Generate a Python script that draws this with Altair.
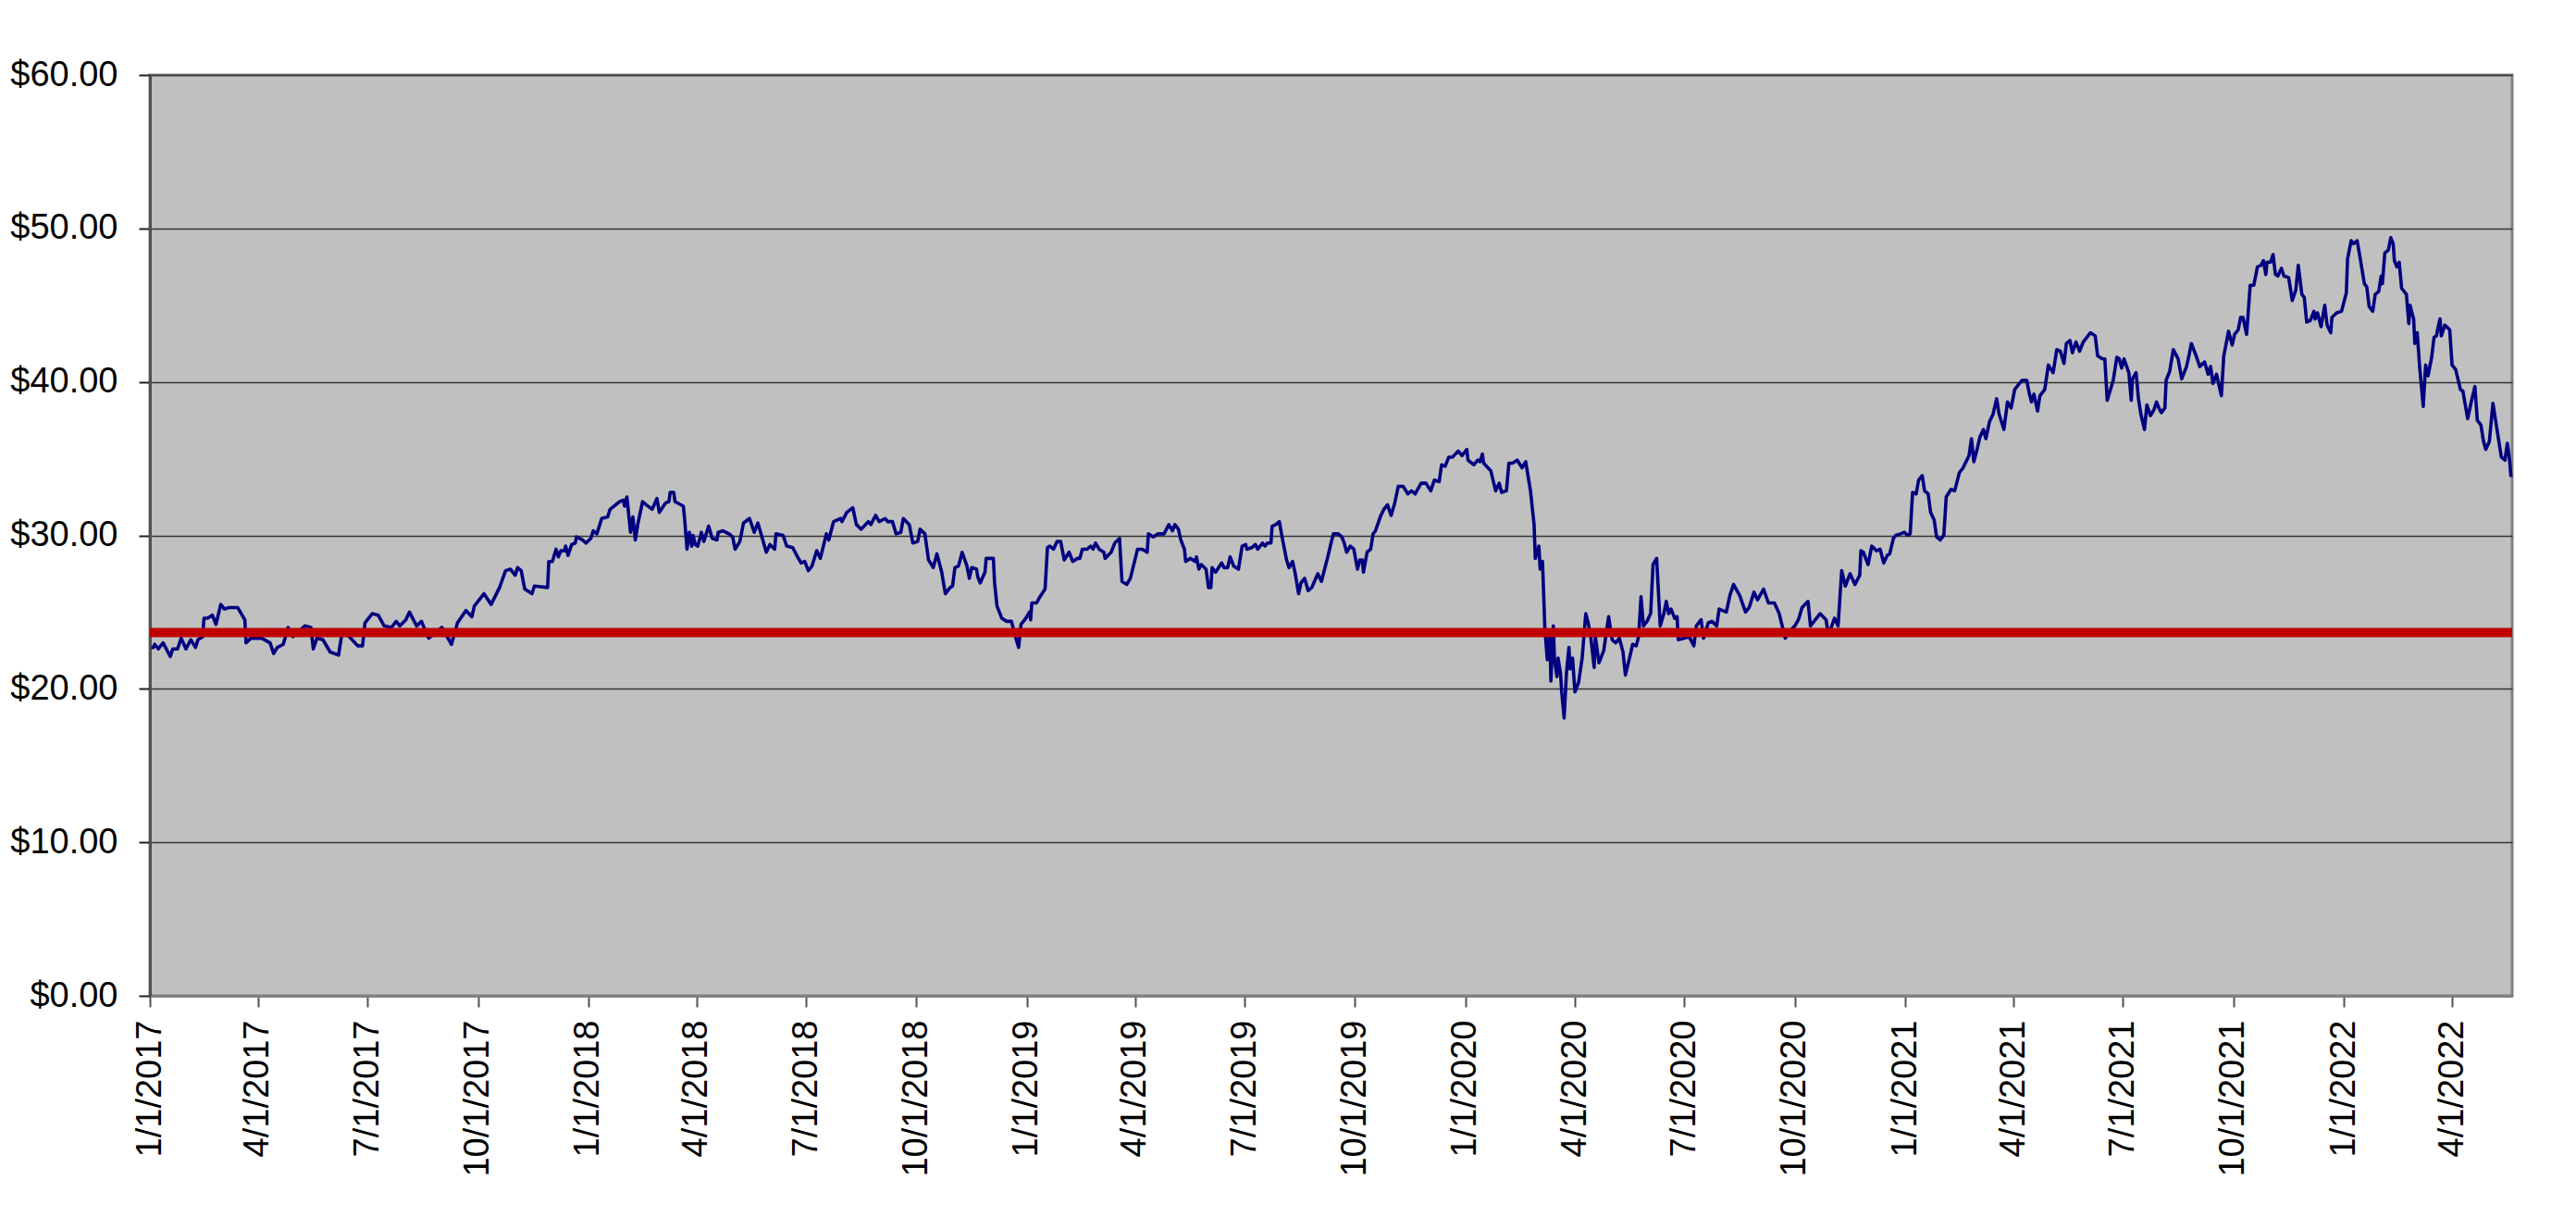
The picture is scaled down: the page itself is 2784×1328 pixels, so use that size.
import altair as alt
import pandas as pd

# ---- data (day offset from 1/1/2017, price in $) ----
seg_a_days = [2,4,7,11,17,19,23,26,30,34, 38,40,44,45,48,52,55,59,62,66, 73,79,80,84,87,93,100,103,106,111,
              115,119,129,134,136,139,144,150,157,160, 166,173,177,179,185,190,195,201,205,208,
              213,216,222,226,232,243,251,256,263,268, 270,278,284,291,296,300,304,306,309,312, 318,320,331]
seg_a_price = [22.6,22.9,22.6,23.0,22.1,22.6,22.6,23.3,22.6,23.2, 22.7,23.2,23.4,24.6,24.6,24.8,24.2,25.5,25.2,25.3,
               25.3,24.5,23.0,23.3,23.3,23.3,23.0,22.3,22.7,22.9, 24.0,23.4,24.1,24.0,22.6,23.3,23.2,22.4,22.2,23.7,
               23.4,22.8,22.8,24.3,24.9,24.8,24.1,24.0,24.4,24.1, 24.5,25.0,24.1,24.4,23.3,24.0,22.9,24.3,25.1,24.7,
               25.4,26.2,25.5,26.6,27.7,27.8,27.4,27.9,27.7,26.5, 26.2,26.7,26.6]

seg_b_days = [332,335,338,340,342,345,346,348,351,354, 355,360,363,367,369,372,376,381,383,391,
              394,395,397,400,402,404,406,410,413,418, 422,424,429,432,433,436,437,444,445,447,
              449,451,452,454,456,459,461,465,468,472, 473,477,482,485,487,491,494,499,503,506,
              509,513,516,520,521,527,530,535,539,542, 545,548,551,555,558,563,565,569,575,576,
              580,585,588,592,598,600,604,607,612,614, 618,621,625,627,632,635,639,641,645,648, 652,655,659]
seg_b_price = [28.3,28.3,29.1,28.6,29.0,29.0,29.3,28.7,29.4,29.5, 29.9,29.7,29.5,29.8,30.3,30.1,31.1,31.2,31.7,32.2,
               32.3,31.9,32.5,30.2,31.2,29.7,30.7,32.2,32.0,31.7, 32.4,31.5,32.1,32.2,32.8,32.8,32.2,31.9,31.1,29.1,
               30.2,29.3,30.0,29.4,29.3,30.2,29.6,30.6,29.8,29.7, 30.2,30.3,30.1,29.9,29.1,29.6,30.8,31.1,30.2,30.8,
               30.0,28.9,29.4,29.1,30.1,30.0,29.3,29.2,28.6,28.2, 28.3,27.7,28.0,29.0,28.5,30.1,29.7,30.9,31.1,30.9,
               31.5,31.8,30.7,30.4,30.9,30.7,31.3,30.9,31.1,30.9, 30.9,30.1,30.2,31.1,30.7,29.5,29.6,30.4,30.1,28.4,
               27.9,28.8,27.6]

seg_c_days = [662,666,668,670,673,676,680,682,684,688, 689,691,695,696,699,702,703,705,709,713,
              717,720,723,725,729,732,733,734,738,740, 745,747,749,752,755,758,761,765,768,772,
              774,776,780,783,785,787,790,794,795,800, 803,807,809,813,816,822,826,830,831,835,
              839,844,848,851,853,856,858,861,862,866, 870,871,873,875,879,881,883,884,887,892,
              894,897,899,902,906,909,912,913,917,920, 922,926,928,930,933,934,937,940,942,946,
              948,951,953,956,958,961,964,967,972,975, 978,980,983,985,989]
seg_c_price = [26.2,26.6,26.7,27.9,28.0,28.9,28.0,27.2,27.9,27.8, 27.3,26.9,27.6,28.5,28.5,28.5,26.9,25.4,24.6,24.4,
               24.4,23.5,22.7,24.2,24.6,25.0,24.5,25.6,25.6,25.9, 26.5,29.2,29.3,29.1,29.6,29.6,28.4,28.9,28.3,28.5,
               28.5,29.1,29.1,29.3,29.1,29.5,29.1,28.9,28.5,28.9, 29.5,29.8,27.0,26.8,27.2,29.1,29.1,28.9,30.1,29.9,
               30.1,30.1,30.7,30.3,30.7,30.4,29.7,29.1,28.3,28.5, 28.3,28.6,27.8,28.1,27.8,26.6,26.6,27.9,27.6,28.2,
               27.9,27.9,28.6,28.0,27.8,29.3,29.4,29.1,29.2,29.4, 29.1,29.5,29.3,29.5,29.5,30.6,30.7,30.9,30.0,28.4,
               27.9,28.3,27.6,26.2,26.9,27.2,26.4,26.6,27.5,27.0, 27.9,28.5,29.5,30.1,30.1]

seg_d_days = [992,994,996,999,1002,1005,1007,1009,1010,1013, 1016,1018,1020,1024,1027,1030,1033,1036,1039,1043,
              1047,1050,1053,1058,1062,1066,1069,1073,1075,1078, 1081,1084,1089,1092,1096,1097,1102,1105,1107,1109,
              1110,1116,1120,1123,1125,1129,1131,1134,1138,1142, 1145,1149,1152,1153,1156,1157,1159,1161,1163,1165,
              1166,1168,1169,1171,1172,1174,1175,1177,1179,1181, 1182,1184,1186,1189,1192,1195,1197,1199,1202,1203,
              1206,1210,1214,1217,1220,1223,1226,1228,1232,1234, 1237,1239,1241,1243,1246,1249,1251,1254,1257,1260,
              1262,1264,1266,1269,1271,1272,1277,1281,1285,1287, 1291,1293,1297,1300,1304,1306,1312,1315,1318,1323,
              1328,1331]
seg_d_price = [29.9,29.5,28.9,29.3,29.1,27.8,28.4,28.4,27.6,28.9, 29.1,30.1,30.3,31.2,31.7,32.0,31.3,32.1,33.2,33.2,
               32.7,32.9,32.7,33.4,33.4,32.9,33.6,33.5,34.6,34.5, 35.1,35.1,35.5,35.2,35.6,34.9,34.6,34.9,34.8,35.3,
               34.7,34.2,32.9,33.4,32.8,32.9,34.7,34.7,34.9,34.4, 34.8,32.9,30.7,28.5,29.3,27.8,28.3,23.9,21.9,23.7,
               20.5,24.1,21.9,20.8,22.0,21.0,19.8,18.1,21.1,22.7, 21.3,22.0,19.8,20.4,22.0,24.9,24.3,23.5,21.4,23.4,
               21.7,22.5,24.7,23.2,23.0,23.3,22.4,20.9,22.2,22.9, 22.8,23.4,26.0,24.1,24.4,24.9,28.1,28.5,24.1,24.9,
               25.7,24.9,25.2,24.6,24.7,23.2,23.3,23.4,22.8,24.1, 24.5,23.3,24.3,24.4,24.1,25.2,25.0,26.1,26.8,26.1,
               25.0,25.3]

seg_e_days = [1335,1338,1343,1347,1352,1356,1361,1364,1369,1372,1375,1380,1382,1390,1395,1397,1402,1405]
seg_e_price = [26.3,25.8,26.5,25.6,25.6,24.9,23.3,23.7,24.1,24.5,25.3,25.7,24.1,24.9,24.5,23.5,24.6,24.1]

seg_f_days = [1408,1411,1415,1419,1423,1424,1426,1430,1433,1437, 1440,1443,1446,1448,1451,1453,1457,1460,1463,1465,
              1467,1470,1472,1475,1477,1480,1482,1485,1487,1490, 1493,1495,1499,1502,1506,1509,1514,1516,1518,1521,
              1523,1526,1528,1531,1534,1537,1539,1543,1546,1549, 1552,1555,1558,1562,1564,1566,1568,1571,1573,1577,
              1580,1584,1587,1590,1593,1595,1598,1600,1603,1606, 1609,1612,1615,1619,1621,1625,1627,1629,1634,1637,
              1639,1641,1643]
seg_f_price = [27.7,26.7,27.5,26.8,27.4,29.0,28.9,28.1,29.3,29.0, 29.1,28.2,28.7,28.8,29.8,30.0,30.1,30.2,30.0,30.1,
               32.8,32.7,33.6,33.9,32.9,32.7,31.5,31.0,29.9,29.7, 30.0,32.5,33.0,32.9,34.1,34.4,35.2,36.3,34.8,35.7,
               36.4,36.9,36.3,37.4,37.9,38.9,37.9,36.9,38.7,38.3, 39.5,39.8,40.1,40.1,39.3,38.7,39.2,38.1,39.1,39.5,
               41.1,40.6,42.1,42.0,41.2,42.5,42.7,41.9,42.6,42.0, 42.6,42.9,43.2,43.0,41.7,41.5,41.5,38.8,40.1,41.6,
               41.5,40.9,41.5]

seg_g_days = [1647,1649,1650,1653,1655,1657,1660,1662,1665,1668, 1670,1672,1674,1677,1678,1681,1684,1688,1691,1695,
              1697,1699,1703,1706,1710,1713,1715,1717,1720,1724, 1726,1730,1733,1735,1738,1740,1742,1745,1748,1751,
              1754,1757,1759,1761,1762,1765,1767,1769,1771,1774, 1776,1780,1783,1786,1788,1791,1793,1795,1798,1801,
              1802,1804,1807,1810,1812,1815,1816,1820,1824,1828, 1829,1832,1834,1837,1839,1843,1845,1847,1850,1852,
              1855,1857,1858,1860,1863,1865,1867,1868,1870,1872, 1874,1878,1880,1881,1884,1885,1887,1889,1892,1894,
              1896,1899,1901,1903,1905,1906,1907,1910,1914,1916, 1919,1923,1925,1929,1932,1935,1937,1940,1942,1944,
              1947,1950,1953,1957,1960,1962,1964,1965]
seg_g_price = [40.6,38.8,40.2,40.6,38.9,37.9,36.9,38.5,37.8,38.2, 38.7,38.3,38.0,38.3,40.1,40.7,42.1,41.5,40.2,41.0,
               41.7,42.5,41.7,41.0,41.3,40.5,41.0,39.9,40.5,39.1, 41.7,43.3,42.4,43.1,43.4,44.2,44.2,43.1,46.3,46.3,
               47.5,47.6,47.9,47.0,47.8,47.8,48.3,47.0,46.9,47.4, 46.9,46.8,45.3,46.0,47.6,45.7,45.5,43.9,44.0,44.6,
               44.1,44.5,43.6,45.0,43.7,43.2,44.2,44.5,44.6,45.8, 48.0,49.2,49.0,49.2,48.3,46.4,46.2,44.9,44.6,45.7,
               45.9,46.9,46.4,48.4,48.6,49.4,49.0,47.9,47.5,47.8, 46.1,45.7,43.8,45.0,44.1,42.5,43.2,41.0,38.4,41.1,
               40.4,41.6,42.9,43.0,43.8,44.1,43.0,43.7,43.4,41.1, 40.8,39.5,39.4,37.6,38.7,39.7,37.5,37.2,36.2,35.6,
               36.1,38.6,37.1,35.1,34.9,36.0,34.8,33.8]

average_price = 23.67

x_tick_dates = ["2017-01-01", "2017-04-01", "2017-07-01", "2017-10-01",
                "2018-01-01", "2018-04-01", "2018-07-01", "2018-10-01",
                "2019-01-01", "2019-04-01", "2019-07-01", "2019-10-01",
                "2020-01-01", "2020-04-01", "2020-07-01", "2020-10-01",
                "2021-01-01", "2021-04-01", "2021-07-01", "2021-10-01",
                "2022-01-01", "2022-04-01"]
x_domain = ["2017-01-01", "2022-05-21"]
y_ticks = [0, 10, 20, 30, 40, 50, 60]

# ---- build table ----
all_days = seg_a_days + seg_b_days + seg_c_days + seg_d_days + seg_e_days + seg_f_days + seg_g_days
all_price = seg_a_price + seg_b_price + seg_c_price + seg_d_price + seg_e_price + seg_f_price + seg_g_price
n = min(len(all_days), len(all_price))
base = pd.Timestamp("2017-01-01")
df = pd.DataFrame({
    "date": [(base + pd.Timedelta(days=d)).strftime("%Y-%m-%dT00:00:00") for d in all_days[:n]],
    "price": all_price[:n],
})
avg_df = pd.DataFrame({"avg": [average_price]})


def dt(s):
    return alt.DateTime(year=int(s[:4]), month=int(s[5:7]), date=int(s[8:10]))


FONT = "Liberation Sans"

x_enc = alt.X(
    "date:T",
    scale=alt.Scale(domain=[dt(x_domain[0]), dt(x_domain[1])], nice=False),
    axis=alt.Axis(
        values=[dt(s) for s in x_tick_dates], format="%-m/%-d/%Y", labelAngle=270,
        labelFont=FONT, labelFontSize=38, labelColor="black", labelPadding=14,
        tickSize=12, tickColor="#505050", tickWidth=2, grid=False,
        domainColor="#808080", domainWidth=3, title=None,
        labelFlush=False, labelOverlap=False, labelBound=False,
    ),
)
y_enc = alt.Y(
    "price:Q",
    scale=alt.Scale(domain=[0, 60], nice=False),
    axis=alt.Axis(
        values=y_ticks, format="$.2f",
        labelFont=FONT, labelFontSize=38, labelColor="black", labelPadding=23,
        tickSize=12, tickColor="#202020", tickWidth=2,
        grid=True, gridColor="#333333", gridWidth=1.5,
        domainColor="#505050", domainWidth=3, title=None,
        labelFlush=False, labelOverlap=False, labelBound=False,
    ),
)

price_line = alt.Chart(df).mark_line(color="#000080", strokeWidth=3.6, strokeJoin="round").encode(
    x=x_enc, y=y_enc
)
avg_rule = alt.Chart(avg_df).mark_rule(color="#C00000", strokeWidth=10).encode(
    y=alt.Y("avg:Q", scale=alt.Scale(domain=[0, 60], nice=False))
)

chart = alt.layer(price_line, avg_rule).properties(
    width=2553,
    height=995,
    autosize=alt.AutoSizeParams(type="none"),
    padding={"left": 154, "top": 73, "right": 55, "bottom": 225},
    background="white",
).configure_view(
    fill="#C0C0C0", stroke="#808080", strokeWidth=3
)

chart.save("out.html", embed_options={"renderer": "svg", "actions": False})
